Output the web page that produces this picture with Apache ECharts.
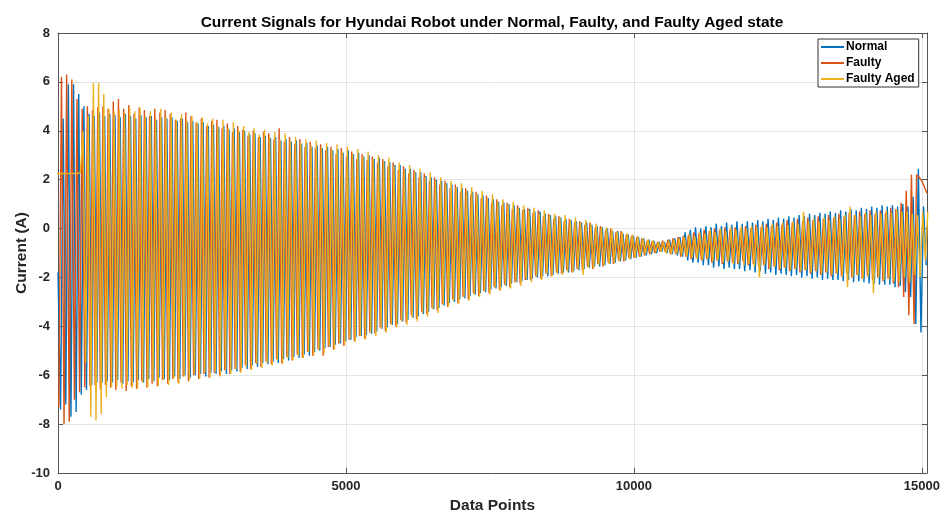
<!DOCTYPE html>
<html><head><meta charset="utf-8">
<script src="https://cdn.jsdelivr.net/npm/echarts@6/dist/echarts.min.js"></script>
<style>html,body{margin:0;padding:0;background:#fff}#c{width:944px;height:512px}</style>
</head><body><div id="c"></div>
<script>
const titleText = 'Current Signals for Hyundai Robot under Normal, Faulty, and Faulty Aged state';
const seriesNames = ['Normal', 'Faulty', 'Faulty Aged'];
const xTickValues = [0, 5000, 10000, 15000];
const yTickValues = [-10, -8, -6, -4, -2, 0, 2, 4, 6, 8];
const xMax = 15090;
const sampleStep = 45;
const normalStart = 0;
const faultyStart = 15;
const agedStart = -15;

// Normal: successive extremes (x = normalStart + i*sampleStep)
const normalY = [-1.8, -7.4,
 4.5,-7.2, 5.9,-7.7, 5.9,-7.5, 5.5,-6.8, 5.0,-6.6, 4.7,-6.4, 4.6,-6.3, 4.75,-6.3, 4.6,-6.25, 4.7,-6.3,
 4.65,-6.2, 4.55,-6.35, 4.7,-6.25, 4.6,-6.3, 4.5,-6.2, 4.65,-6.3, 4.55,-6.15, 4.6,-6.25, 4.45,-6.1, 4.55,-6.15,
 4.5,-6.2, 4.55,-6.05, 4.4,-6.15, 4.5,-6.0, 4.35,-6.1, 4.4,-6.0, 4.3,-5.95, 4.35,-6.05, 4.2,-5.9, 4.25,-5.95,
 4.15,-5.85, 4.2,-5.95, 4.05,-5.8, 4.1,-5.85, 3.95,-5.7, 4.0,-5.75, 3.85,-5.6, 3.9,-5.65, 3.75,-5.5, 3.8,-5.55,
 3.7,-5.45, 3.75,-5.5, 3.6,-5.35, 3.65,-5.4, 3.55,-5.25, 3.6,-5.3, 3.45,-5.15, 3.5,-5.2, 3.35,-5.05, 3.4,-5.0,
 3.3,-4.9, 3.35,-4.85, 3.2,-4.75, 3.25,-4.7, 3.1,-4.6, 3.2,-4.55, 3.05,-4.45, 3.1,-4.4, 2.95,-4.35, 3.0,-4.3,
 2.85,-4.2, 2.9,-4.1, 2.75,-4.05, 2.7,-3.95, 2.6,-3.9, 2.6,-3.8, 2.45,-3.75, 2.45,-3.65, 2.3,-3.6, 2.3,-3.5,
 2.15,-3.4, 2.1,-3.3, 2.0,-3.25, 1.95,-3.15, 1.85,-3.05, 1.8,-3.0, 1.7,-2.9, 1.65,-2.85, 1.55,-2.75, 1.5,-2.7,
 1.4,-2.65, 1.35,-2.6, 1.25,-2.5, 1.2,-2.45, 1.1,-2.4, 1.05,-2.35, 1.0,-2.25, 0.95,-2.2, 0.85,-2.15, 0.8,-2.1,
 0.8,-2.05, 0.7,-2.0, 0.7,-1.95, 0.6,-1.95, 0.55,-1.9, 0.5,-1.85, 0.45,-1.8, 0.4,-1.8, 0.35,-1.75, 0.3,-1.7,
 0.25,-1.65, 0.25,-1.6, 0.15,-1.55, 0.1,-1.55, 0.05,-1.5, 0.0,-1.45, -0.1,-1.4, -0.1,-1.35, -0.2,-1.3, -0.25,-1.25,
 -0.3,-1.2, -0.35,-1.15, -0.4,-1.1, -0.45,-1.05, -0.5,-1.0, -0.55,-0.95, -0.55,-1.0, -0.45,-1.05, -0.4,-1.1, -0.35,-1.15,
 -0.15,-1.3, -0.05,-1.4, 0.05,-1.4, 0.0,-1.5, 0.1,-1.5, 0.05,-1.6, 0.2,-1.55, 0.1,-1.65, 0.25,-1.6, 0.15,-1.65,
 0.3,-1.65, 0.2,-1.75, 0.3,-1.7, 0.25,-1.8, 0.35,-1.75, 0.3,-1.85, 0.4,-1.8, 0.35,-1.9, 0.45,-1.85, 0.4,-1.9,
 0.5,-1.95, 0.45,-1.9, 0.55,-2.0, 0.5,-1.95, 0.6,-2.05, 0.55,-2.0, 0.65,-2.1, 0.6,-2.05, 0.7,-2.1, 0.65,-2.1,
 0.75,-2.15, 0.7,-2.1, 0.8,-2.2, 0.75,-2.15, 0.85,-2.2, 0.8,-2.25, 0.9,-2.25, 0.85,-2.3, 0.95,-2.3, 0.9,-2.3,
 0.95,-2.4, 0.9,-2.35, 1.0,-2.6, 0.9,-2.8, 1.3,-3.9, 2.45,-4.25, 0.9,-1.5];

// Faulty (x = faultyStart + i*sampleStep)
const faultyY = [-7.3,
 6.2,-8.0, 6.3,-7.9, 6.1,-7.0, 5.3,-6.7, 4.9,-6.5, 5.0,-6.45, 4.85,-6.4, 4.95,-6.55, 5.0,-6.4, 4.9,-6.5,
 5.2,-6.6, 5.3,-6.3, 4.9,-6.65, 5.05,-6.45, 4.7,-6.55, 4.95,-6.25, 4.85,-6.5, 4.6,-6.35, 4.9,-6.45, 4.75,-6.2,
 4.85,-6.35, 4.7,-6.15, 4.45,-6.3, 4.5,-6.05, 4.75,-6.25, 4.6,-6.0, 4.35,-6.15, 4.5,-5.95, 4.2,-6.1, 4.4,-5.9,
 4.45,-6.0, 4.1,-5.8, 4.3,-5.95, 3.95,-5.75, 4.2,-5.85, 4.05,-5.6, 3.8,-5.75, 4.0,-5.5, 3.75,-5.65, 3.95,-5.45,
 3.9,-5.55, 3.65,-5.35, 4.1,-5.5, 3.55,-5.25, 3.75,-5.4, 3.45,-5.15, 3.65,-5.3, 3.35,-5.05, 3.55,-5.2, 3.3,-4.95,
 3.45,-5.2, 3.2,-4.85, 3.35,-4.95, 3.05,-4.7, 3.3,-4.8, 2.95,-4.55, 3.15,-4.6, 2.85,-4.4, 3.05,-4.5, 2.8,-4.25,
 2.95,-4.3, 2.7,-4.05, 2.85,-4.2, 2.55,-3.9, 2.7,-4.0, 2.4,-3.75, 2.55,-3.85, 2.25,-3.55, 2.4,-3.7, 2.1,-3.4,
 2.25,-3.5, 1.95,-3.25, 2.1,-3.35, 1.8,-3.1, 1.95,-3.2, 1.65,-2.9, 1.8,-3.05, 1.5,-2.8, 1.65,-2.9, 1.4,-2.65,
 1.5,-2.75, 1.25,-2.55, 1.35,-2.65, 1.05,-2.4, 1.2,-2.5, 0.95,-2.3, 1.05,-2.4, 0.8,-2.2, 0.95,-2.25, 0.75,-2.1,
 0.85,-2.1, 0.65,-1.95, 0.75,-2.05, 0.5,-1.85, 0.6,-1.95, 0.4,-1.8, 0.5,-1.85, 0.3,-1.7, 0.4,-1.8, 0.25,-1.65,
 0.3,-1.7, 0.15,-1.55, 0.25,-1.65, 0.05,-1.45, 0.1,-1.55, -0.05,-1.4, 0.0,-1.45, -0.15,-1.3, -0.1,-1.35, -0.25,-1.2,
 -0.3,-1.2, -0.35,-1.15, -0.4,-1.1, -0.5,-1.05, -0.5,-1.0, -0.55,-0.95, -0.5,-0.95, -0.45,-1.05, -0.4,-1.05, -0.35,-1.15,
 -0.3,-1.15, -0.25,-1.25, -0.15,-1.2, -0.2,-1.3, -0.05,-1.25, -0.1,-1.4, 0.0,-1.3, -0.05,-1.45, 0.05,-1.35, -0.05,-1.4,
 0.05,-1.45, -0.05,-1.35, 0.1,-1.5, 0.0,-1.45, 0.15,-1.55, 0.05,-1.5, 0.2,-1.65, 0.1,-1.55, 0.25,-1.7, 0.15,-1.6,
 0.35,-1.75, 0.25,-1.65, 0.4,-1.8, 0.3,-1.7, 0.45,-1.85, 0.35,-1.75, 0.5,-1.9, 0.4,-1.8, 0.55,-1.95, 0.45,-1.85,
 0.6,-1.95, 0.5,-1.85, 0.65,-2.0, 0.55,-1.9, 0.7,-2.05, 0.6,-1.95, 0.75,-2.1, 0.6,-2.0, 0.75,-2.15, 0.65,-2.05,
 0.85,-2.25, 0.8,-2.4, 1.05,-2.8, 1.55,-3.55, 2.2,-3.9,
 2.2, 2.1, 1.95, 1.7, 1.45];

// Faulty Aged (x = agedStart + i*sampleStep)
const agedY = [2.25, 2.25, 2.25, 2.25, 2.25, 2.25, 2.25, 2.25, 2.25, 2.3, 4.0,
 -5.5,4.6, -7.7,5.95, -7.85,5.95, -7.6,5.5, -6.9,4.9, -6.5,4.8, -6.45,4.85, -6.55,4.75, -6.4,4.95, -6.5,4.8,
 -6.55,4.95, -6.3,4.6, -6.5,4.8, -6.25,4.5, -6.45,4.9, -6.2,4.55, -6.4,4.75, -6.15,4.45, -6.35,4.7, -6.05,4.4,
 -6.2,4.6, -5.95,4.35, -6.15,4.55, -5.9,4.3, -6.1,4.5, -5.85,4.2, -6.05,4.45, -5.8,4.1, -5.95,4.35, -5.75,4.05,
 -5.9,4.2, -5.65,3.95, -5.8,4.1, -5.55,3.85, -5.7,4.05, -5.5,3.75, -5.6,3.95, -5.4,3.65, -5.55,3.9, -5.3,3.6,
 -5.4,3.75, -5.2,3.5, -5.3,3.65, -5.05,3.4, -5.2,3.6, -4.95,3.3, -5.1,3.5, -4.8,3.2, -4.95,3.45, -4.65,3.15,
 -4.75,3.35, -4.5,3.05, -4.65,3.25, -4.4,2.95, -4.55,3.15, -4.25,2.85, -4.4,3.0, -4.1,2.7, -4.25,2.9, -3.95,2.55,
 -4.05,2.7, -3.8,2.4, -3.95,2.6, -3.65,2.3, -3.8,2.45, -3.45,2.1, -3.6,2.3, -3.3,1.95, -3.45,2.1, -3.1,1.8,
 -3.2,1.95, -2.95,1.7, -3.1,1.85, -2.8,1.55, -2.95,1.7, -2.7,1.4, -2.8,1.55, -2.55,1.25, -2.7,1.4, -2.4,1.1,
 -2.55,1.2, -2.3,1.0, -2.45,1.1, -2.2,0.85, -2.35,0.95, -2.05,0.75, -2.2,0.85, -1.95,0.6, -2.1,0.75, -1.85,0.55,
 -1.95,0.6, -1.85,0.45, -1.9,0.55, -1.75,0.35, -1.8,0.45, -1.65,0.25, -1.9,0.35, -1.6,0.15, -1.65,0.2, -1.5,0.05,
 -1.5,0.05, -1.45,0.0, -1.4,-0.1, -1.35,-0.15, -1.3,-0.2, -1.25,-0.25, -1.2,-0.3, -1.15,-0.4, -1.05,-0.45, -1.0,-0.5,
 -0.95,-0.55, -0.95,-0.55, -1.0,-0.5, -1.05,-0.45, -1.05,-0.4, -1.1,-0.35, -1.15,-0.25, -1.2,-0.3, -1.25,-0.15, -1.3,-0.2,
 -1.25,-0.05, -1.35,-0.15, -1.3,0.0, -1.4,-0.1, -1.35,0.05, -1.45,-0.05, -1.4,0.1, -1.5,0.0, -1.45,0.1, -1.55,0.05,
 -2.0,0.15, -1.5,0.05, -1.6,0.2, -1.55,0.1, -1.65,0.25, -1.6,0.15, -1.7,0.3, -1.65,0.2, -1.75,0.7, -1.7,0.3,
 -1.8,0.4, -1.75,0.3, -1.85,0.45, -1.8,0.35, -1.9,0.5, -1.85,0.4, -1.95,0.55, -2.4,0.9, -2.0,0.55, -1.9,0.5,
 -2.05,0.65, -1.95,0.55, -2.65,0.7, -2.0,0.6, -2.1,0.75, -2.05,0.65, -2.15,0.8, -2.2,0.7, -2.0,0.7, -2.2,0.6,
 -1.9,0.55, -2.0,0.7, -1.3,0.7];

const colors = ['#0072BD', '#D95319', '#EDB120'];
const font = '"Liberation Sans", Arial, Helvetica, sans-serif';

function toPairs(start, ys) {
  return ys.map((y, i) => [start + i * sampleStep, y]);
}

const chart = echarts.init(document.getElementById('c'), null, {renderer: 'canvas'});
const axisLineStyle = {color: '#555555', width: 1};
const axisLineCommon = {show: true, onZero: false, lineStyle: axisLineStyle};
const tickCommon = {show: true, inside: true, length: 5, lineStyle: {color: '#555555', width: 1}};
const labelStyle = {fontFamily: font, fontWeight: 'bold', fontSize: 13, color: '#262626'};
const nameStyle = {fontFamily: font, fontWeight: 'bold', fontSize: 15.5, color: '#262626'};
const gridLine = {show: true, lineStyle: {color: '#e4e4e4', width: 1}};

const option = {
  animation: false,
  backgroundColor: '#ffffff',
  title: {
    text: titleText,
    left: 487, top: 10, textAlign: 'center',
    textStyle: {fontFamily: font, fontWeight: 'bold', fontSize: 15.5, color: '#000'}
  },
  legend: {
    orient: 'vertical', left: 818, top: 39,
    icon: 'rect', itemWidth: 23, itemHeight: 2, itemGap: 2,
    padding: [1, 4, 1, 3],
    borderColor: '#333', borderWidth: 1, backgroundColor: '#fff',
    textStyle: {fontFamily: font, fontWeight: 'bold', fontSize: 12, color: '#000', lineHeight: 14, padding: [0, 0, 0, -3]},
    data: seriesNames
  },
  grid: {left: 58, right: 17, top: 33, bottom: 39, containLabel: false, outerBoundsMode: 'none'},
  xAxis: [{
    type: 'value', position: 'bottom', min: 0, max: xMax, interval: 5000,
    axisLine: axisLineCommon,
    axisTick: tickCommon,
    axisLabel: {...labelStyle, margin: 7, showMaxLabel: false,
      formatter: v => xTickValues.includes(v) ? String(v) : ''},
    splitLine: gridLine,
    name: 'Data Points', nameLocation: 'middle', nameGap: 24,
    nameTextStyle: nameStyle
  }, {
    type: 'value', position: 'top', min: 0, max: xMax, interval: 5000,
    axisLine: axisLineCommon,
    axisTick: tickCommon,
    axisLabel: {show: false}, splitLine: {show: false}
  }],
  yAxis: [{
    type: 'value', position: 'left', min: yTickValues[0], max: yTickValues[yTickValues.length - 1], interval: 2,
    axisLine: axisLineCommon,
    axisTick: tickCommon,
    axisLabel: {...labelStyle, margin: 8},
    splitLine: gridLine,
    name: 'Current (A)', nameLocation: 'middle', nameGap: 28, nameMoveOverlap: false,
    nameTextStyle: nameStyle
  }, {
    type: 'value', position: 'right', min: yTickValues[0], max: yTickValues[yTickValues.length - 1], interval: 2,
    axisLine: axisLineCommon,
    axisTick: tickCommon,
    axisLabel: {show: false}, splitLine: {show: false}
  }],
  series: [
    {name: seriesNames[0], type: 'line', data: toPairs(normalStart, normalY)},
    {name: seriesNames[1], type: 'line', data: toPairs(faultyStart, faultyY)},
    {name: seriesNames[2], type: 'line', data: toPairs(agedStart, agedY)}
  ].map((s, i) => Object.assign(s, {
    symbol: 'none', showSymbol: false, clip: true, z: 2 + i,
    lineStyle: {width: 1.4, color: colors[i]},
    itemStyle: {color: colors[i]}
  }))
};
chart.setOption(option);
</script>
</body></html>
